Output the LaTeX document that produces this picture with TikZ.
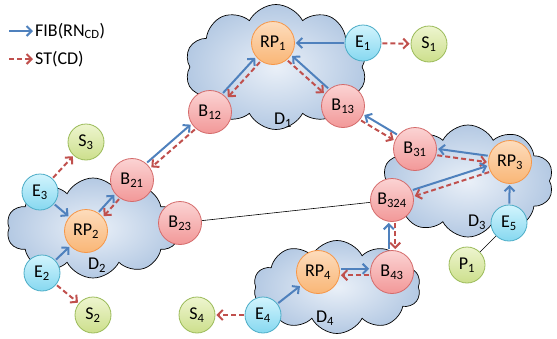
\documentclass[tikz,border=0pt]{standalone}
\usepackage{fontspec}
\setmainfont{Carlito}
\usepackage{tikz}
\usetikzlibrary{arrows.meta}
\usetikzlibrary{shapes}
\usetikzlibrary{calc}

\definecolor{domin}{HTML}{EAF0F8}
\definecolor{domout}{HTML}{B4C9E3}
\definecolor{rpline}{HTML}{F79646}
\definecolor{rptop}{HTML}{FDDCBC}
\definecolor{rpbot}{HTML}{F9B676}
\definecolor{bline}{HTML}{D46A6A}
\definecolor{btop}{HTML}{FBD3D3}
\definecolor{bbot}{HTML}{F29898}
\definecolor{eline}{HTML}{4BACC6}
\definecolor{etop}{HTML}{D2F4FD}
\definecolor{ebot}{HTML}{86D8F0}
\definecolor{sline}{HTML}{9BBB59}
\definecolor{sgtop}{HTML}{EEF5CF}
\definecolor{sgbot}{HTML}{CCDF8C}
\definecolor{fibblue}{HTML}{4F81BD}
\definecolor{stred}{HTML}{C0504D}

\tikzset{
  MyDomain/.style={
    cloud, cloud puffs=10, cloud puff arc=125,
    draw=black, line width=0.7pt, inner sep=0pt,
    inner color=domin, outer color=domout,
  },
  MyRouter/.style={
    circle, inner sep=0pt, line width=0.8pt,
    font=\fontsize{18}{18}\selectfont,
  },
  MyRP/.style={MyRouter, minimum size=43pt, draw=rpline, top color=rptop, bottom color=rpbot},
  MyBorder/.style={MyRouter, minimum size=43pt, draw=bline, top color=btop, bottom color=bbot},
  MyEdge/.style={MyRouter, minimum size=36pt, draw=eline, top color=etop, bottom color=ebot},
  MySource/.style={MyRouter, minimum size=36pt, draw=sline, top color=sgtop, bottom color=sgbot},
  MyLabel/.style={font=\fontsize{18}{18}\selectfont, inner sep=1pt},
  FibArrow/.style={
    -{Straight Barb[length=5pt,width=10pt]}, line width=2pt, draw=fibblue,
    shorten >=1pt, shorten <=1pt,
  },
  StArrow/.style={
    -{Straight Barb[length=5pt,width=10pt]}, line width=2pt, draw=stred,
    dash pattern=on 5pt off 3pt, shorten >=1pt, shorten <=1pt,
  },
  MyLink/.style={draw=black, line width=0.6pt},
}

% blue FIB arrow #2->#3 and red ST arrow back, side by side (#1 = offset)
\newcommand\fibst[3]{%
  \path (#2) -- (#3) coordinate[pos=0] (pa) coordinate[pos=1] (pb);
  \draw[FibArrow] ($(pa)!#1!90:(pb)$) -- ($(pb)!#1!-90:(pa)$);
  \draw[StArrow] ($(pb)!#1!90:(pa)$) -- ($(pa)!#1!-90:(pb)$);
}

\begin{document}
\begin{tikzpicture}[x=1pt,y=-1pt]
\useasboundingbox (0,0) rectangle (557,338);

% domains
\node[MyDomain, minimum width=182pt, minimum height=125pt] (dom1) at (276,67) {};
\node[MyDomain, minimum width=173pt, minimum height=100pt] (dom2) at (93,228) {};
\node[MyDomain, minimum width=171pt, minimum height=112pt] (dom3) at (468,181) {};
\node[MyDomain, minimum width=167pt, minimum height=93pt] (dom4) at (337,287) {};
\node[MyLabel] (D1) at (283,120) {D\textsubscript{1}};
\node[MyLabel] (D2) at (97,265) {D\textsubscript{2}};
\node[MyLabel] (D3) at (477,222) {D\textsubscript{3}};
\node[MyLabel] (D4) at (325,318) {D\textsubscript{4}};

% legend
\coordinate (fibleg) at (8,31);
\coordinate (stleg) at (8,59);
\node[MyLabel, anchor=west] (fibtxt) at (34,31) {FIB(RN\textsubscript{CD})};
\node[MyLabel, anchor=west] (sttxt) at (34,59) {ST(CD)};
\draw[FibArrow] (fibleg) -- (fibtxt.west);
\draw[StArrow] (stleg) -- (sttxt.west);

% routers and hosts
\node[MyRP] (RP1) at (273,43) {RP\textsubscript{1}};
\node[MyEdge] (E1) at (363,43) {E\textsubscript{1}};
\node[MySource] (S1) at (429,44) {S\textsubscript{1}};
\node[MyBorder] (B12) at (210,112) {B\textsubscript{12}};
\node[MyBorder] (B13) at (343,106) {B\textsubscript{13}};

\node[MySource] (S3) at (86,142) {S\textsubscript{3}};
\node[MyEdge] (E3) at (40,192) {E\textsubscript{3}};
\node[MyBorder] (B21) at (132,180) {B\textsubscript{21}};
\node[MyRP] (RP2) at (86,231) {RP\textsubscript{2}};
\node[MyBorder] (B23) at (180,223) {B\textsubscript{23}};
\node[MyEdge] (E2) at (42,273) {E\textsubscript{2}};
\node[MySource] (S2) at (93,315) {S\textsubscript{2}};

\node[MyBorder] (B31) at (415,149) {B\textsubscript{31}};
\node[MyRP] (RP3) at (510,162) {RP\textsubscript{3}};
\node[MyBorder] (B324) at (392,200) {B\textsubscript{324}};
\node[MyEdge] (E5) at (509,223) {E\textsubscript{5}};
\node[MySource] (P1) at (467,265) {P\textsubscript{1}};

\node[MyRP] (RP4) at (318,272) {RP\textsubscript{4}};
\node[MyBorder] (B43) at (392,272) {B\textsubscript{43}};
\node[MyEdge] (E4) at (263,315) {E\textsubscript{4}};
\node[MySource] (S4) at (197,315) {S\textsubscript{4}};

% plain links
\draw[MyLink] (B23) -- (B324);
\draw[MyLink] (E5) -- (P1);

% single arrows
\draw[FibArrow] (E1) -- (RP1);
\draw[StArrow] (E1) -- (S1);
\draw[FibArrow] (E3) -- (RP2);
\draw[StArrow] (E3) -- (S3);
\draw[FibArrow] (E2) -- (RP2);
\draw[StArrow] (E2) -- (S2);
\draw[FibArrow] (E5) -- (RP3);
\draw[FibArrow] (E4) -- (RP4);
\draw[StArrow] (E4) -- (S4);

% paired arrows
\fibst{3.2pt}{B12}{RP1}
\fibst{-3.2pt}{B13}{RP1}
\fibst{-3.2pt}{B31}{B13}
\fibst{3.2pt}{B21}{B12}
\fibst{3.2pt}{RP2}{B21}
\fibst{-3.2pt}{RP3}{B31}
\fibst{3.2pt}{B324}{RP3}
\fibst{3.2pt}{B43}{B324}
\fibst{3.2pt}{RP4}{B43}
\end{tikzpicture}
\end{document}
